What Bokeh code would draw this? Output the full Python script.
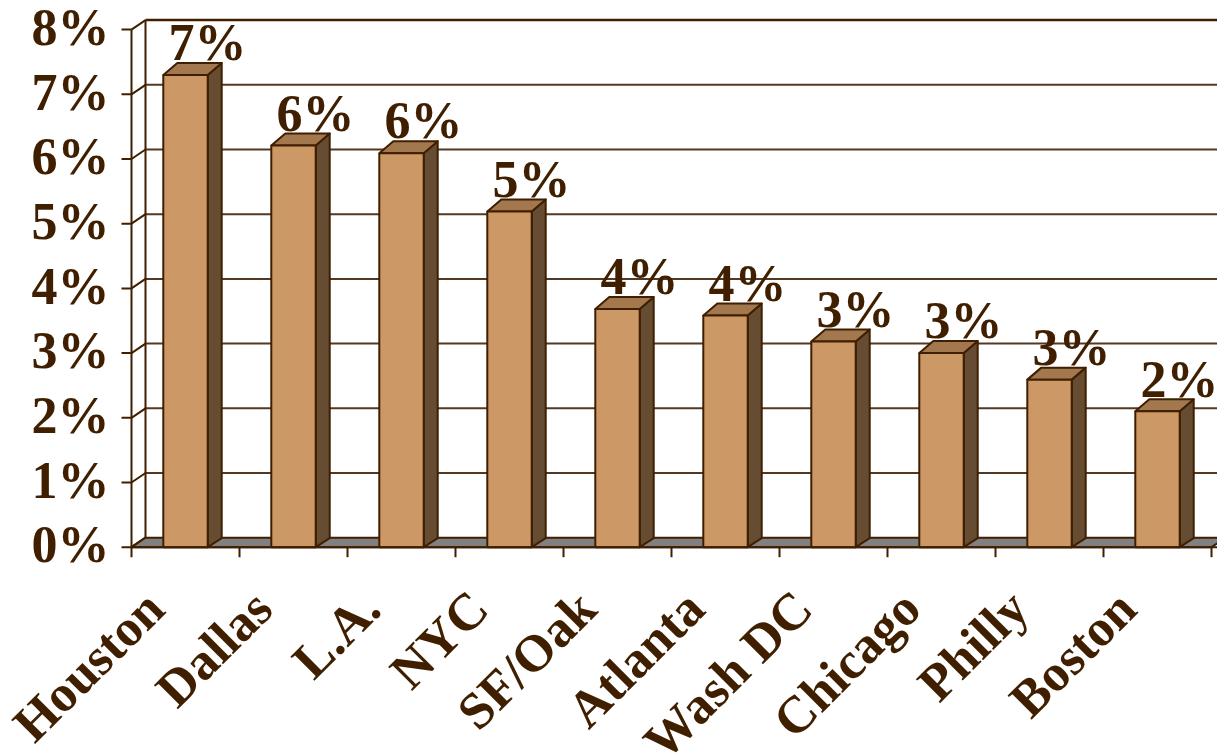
import math

from bokeh.core.properties import value
from bokeh.embed import file_html
from bokeh.models import ColumnDataSource, Range1d
from bokeh.plotting import figure
from bokeh.resources import INLINE

# ---- data -------------------------------------------------------------
cities = ["Houston", "Dallas", "L.A.", "NYC", "SF/Oak",
          "Atlanta", "Wash DC", "Chicago", "Philly", "Boston"]
shares = [7.30, 6.21, 6.09, 5.19, 3.68, 3.58, 3.18, 3.00, 2.59, 2.10]
y_ticks = [0, 1, 2, 3, 4, 5, 6, 7, 8]
y_tick_labels = [f"{t}%" for t in y_ticks]

# ---- geometry / style -------------------------------------------------
W, H = 1217, 756
PX_X = 108.0      # pixels per category slot
PX_Y = 64.7       # pixels per percentage point
ORIGIN_X = 131.0  # pixel column of the front value axis
ORIGIN_Y = 546.7  # pixel row of 0% on the front axis (from top)


def px(n):
    return n / PX_X


def py(n):
    return n / PX_Y


X0 = -ORIGIN_X / PX_X
X1 = X0 + W / PX_X
Y1 = ORIGIN_Y / PX_Y
Y0 = Y1 - H / PX_Y

DX = px(14)        # depth shift to the right
DY_WALL = py(9.5)  # depth shift upward of walls / floor
DY_TOP = py(12)    # depth shift of bar tops
DY_BOT = py(9)     # depth shift of bar bottoms
HALF = px(22.2)    # half width of a bar's front face

INK = "#3F1F00"
GRID = "#553822"
FRONT = "#CC9966"
TOP = "#A3784F"
SIDE = "#664C33"
FLOOR = "#808080"
FONT = value("Liberation Serif")
FONT_PX = 52
LIFT = 0.37 * FONT_PX   # raise anchors so the alphabetic baseline lands on target

n = len(cities)
ymax = y_ticks[-1]
centers = [i + 0.5 for i in range(n)]

p = figure(width=W, height=H, output_backend="svg", toolbar_location=None,
           x_range=Range1d(X0, X1), y_range=Range1d(Y0, Y1),
           x_axis_location=None, y_axis_location=None,
           min_border=0, background_fill_color="white",
           border_fill_color="white")
p.outline_line_color = None
p.grid.visible = False

# ---- back wall --------------------------------------------------------
inner = y_ticks[1:-1]
p.segment(x0=[DX] * len(inner), y0=[v + DY_WALL for v in inner],
          x1=[n + DX] * len(inner), y1=[v + DY_WALL for v in inner],
          line_color=GRID, line_width=2)
p.segment(x0=[DX], y0=[ymax + DY_WALL], x1=[n + DX], y1=[ymax + DY_WALL],
          line_color=INK, line_width=2.5)
p.segment(x0=[DX], y0=[DY_WALL], x1=[DX], y1=[ymax + DY_WALL],
          line_color=INK, line_width=2)

# side wall: diagonals from the front axis to the back wall
p.segment(x0=[0] * len(y_ticks), y0=y_ticks,
          x1=[DX] * len(y_ticks), y1=[v + DY_WALL for v in y_ticks],
          line_color=INK, line_width=2)
p.segment(x0=[0], y0=[0], x1=[0], y1=[ymax], line_color=INK, line_width=2)

# floor
p.patch(x=[0, n, n + DX, DX], y=[0, 0, DY_WALL, DY_WALL],
        fill_color=FLOOR, line_color=INK, line_width=2)

# ---- bars -------------------------------------------------------------
lefts = [c - HALF for c in centers]
rights = [c + HALF for c in centers]
side_xs = [[r, r + DX, r + DX, r] for r in rights]
side_ys = [[0, DY_BOT, v + DY_TOP, v] for v in shares]
top_xs = [[l, r, r + DX, l + DX] for l, r in zip(lefts, rights)]
top_ys = [[v, v, v + DY_TOP, v + DY_TOP] for v in shares]

p.patches(xs=side_xs, ys=side_ys, fill_color=SIDE, line_color=INK,
          line_width=2, line_join="round")
p.patches(xs=top_xs, ys=top_ys, fill_color=TOP, line_color=INK,
          line_width=2, line_join="round")
p.quad(left=lefts, right=rights, bottom=0, top=shares,
       fill_color=FRONT, line_color=INK, line_width=2)

# ---- front category axis ---------------------------------------------
p.segment(x0=[0], y0=[0], x1=[X1], y1=[0], line_color=INK, line_width=2)
bounds = list(range(n + 1))
p.segment(x0=bounds, y0=[0] * len(bounds), x1=bounds,
          y1=[-py(10)] * len(bounds), line_color=INK, line_width=2)
# value-axis tick marks
p.segment(x0=[-px(10)] * len(y_ticks), y0=y_ticks,
          x1=[0] * len(y_ticks), y1=y_ticks, line_color=INK, line_width=2)

# ---- texts ------------------------------------------------------------
text_style = dict(text_font=FONT, text_font_style="bold",
                  text_font_size=f"{FONT_PX}px", text_color=INK)

ytick_src = ColumnDataSource(dict(
    x=[-px(22)] * len(y_ticks),
    y=[v - py(17) + py(LIFT) for v in y_ticks],
    t=y_tick_labels))
p.text(x="x", y="y", text="t", source=ytick_src, text_align="right",
       text_baseline="alphabetic", **text_style)

val_src = ColumnDataSource(dict(
    x=[c + px(22) for c in centers],
    y=[v + py(13) + py(LIFT) for v in shares],
    t=[f"{round(v)}%" for v in shares]))
p.text(x="x", y="y", text="t", source=val_src, text_align="center",
       text_baseline="alphabetic", **text_style)

diag = LIFT * math.sqrt(0.5)
cat_src = ColumnDataSource(dict(
    x=[c - px(17) - px(diag) for c in centers],
    y=[-py(66) + py(diag)] * n,
    t=cities))
p.text(x="x", y="y", text="t", source=cat_src, angle=math.pi / 4,
       text_align="right", text_baseline="alphabetic", **text_style)

open("out.html", "w").write(file_html(p, INLINE))
